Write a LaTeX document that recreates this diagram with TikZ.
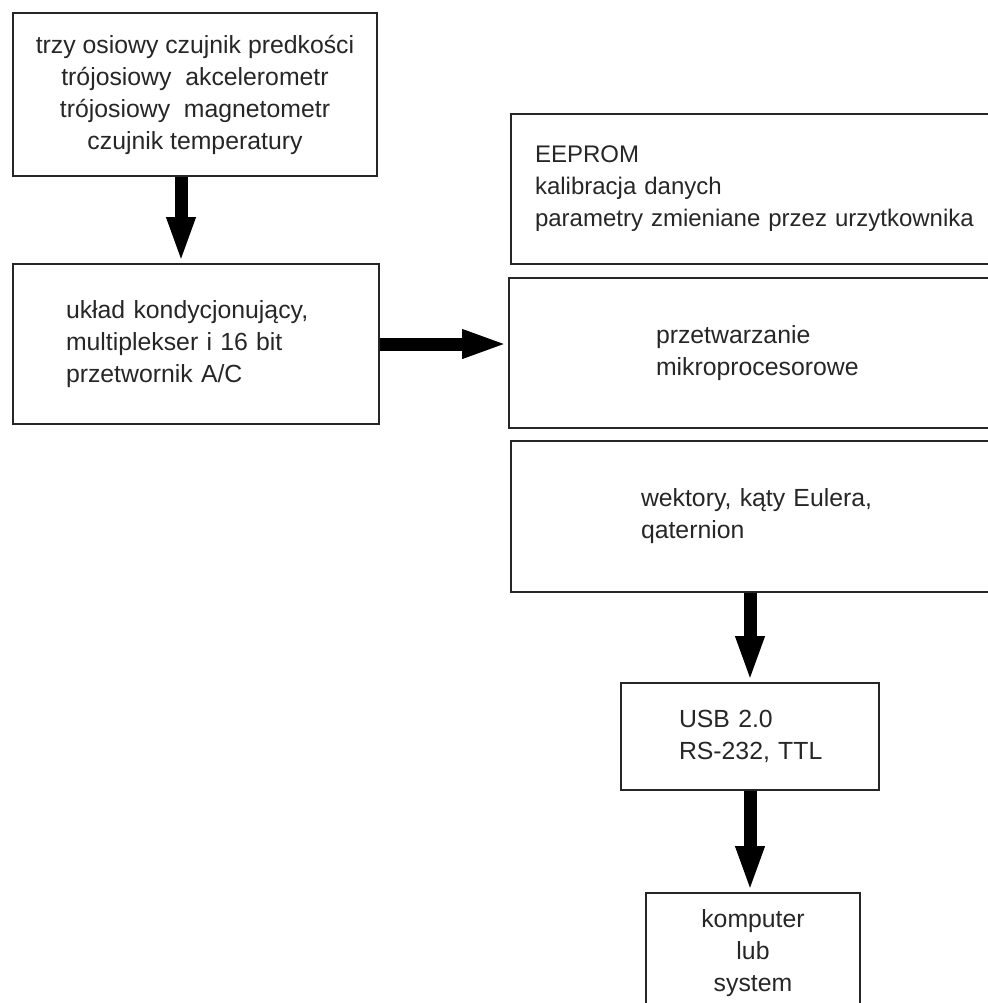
\documentclass[tikz,border=0pt]{standalone}
\usepackage{fontspec}
\setmainfont{Liberation Sans}
\usetikzlibrary{arrows.meta,positioning}

\begin{document}
\begin{tikzpicture}[x=0.5pt,y=-0.5pt]
    \tikzset{block/.style= {draw=black!85, rectangle
    , line width=1pt
    , anchor=north west
    , font=\fontsize{12.4}{16}\selectfont
    , text=black!85
    , inner ysep=0pt
      }
    , fat/.style= {line width=6.5pt
    , -{Triangle[width=13pt,length=23pt]}
      }
    }
\useasboundingbox (0,0) rectangle (987,1003);

\node [block, minimum width=182pt, minimum height=81.5pt, align=center] (sensors) at (12,12)
  {trzy osiowy czujnik predkości\\trójosiowy\ \ akcelerometr\\trójosiowy\ \ magnetometr\\czujnik temperatury};
\node [block, inner xsep=26.5pt, text width=130pt, minimum height=80pt, align=left] (adc) at (12,263)
  {układ kondycjonujący,\\multiplekser i 16 bit\\przetwornik A/C};
\node [block, inner xsep=12pt, text width=240pt, minimum height=75pt, align=left,
  font=\fontsize{12}{16}\selectfont] (eeprom) at (510,113)
  {EEPROM\\kalibracja danych\\parametry zmieniane przez urzytkownika};
\node [block, inner xsep=73.5pt, text width=180pt, minimum height=75pt, align=left] (proc) at (508,277)
  {przetwarzanie\\mikroprocesorowe};
\node [block, inner xsep=65pt, text width=190pt, minimum height=75.5pt, align=left] (vec) at (510,440)
  {wektory, kąty Eulera,\\qaternion};
\node [block, inner xsep=29pt, text width=71pt, minimum height=53.5pt, align=left] (usb) at (620,682)
  {USB 2.0\\\mbox{RS-232, TTL}};
\node [block, minimum width=107pt, minimum height=60pt, align=center] (pc) at (645,892)
  {komputer\\lub\\system};

 \path[draw, fat] ([xshift=-7pt]sensors.south) -- ([xshift=-7pt]sensors.south |- adc.north);
 \path[draw, fat] (adc.east) -- (adc.east -| proc.west);
 \path[draw, fat] (usb.north |- vec.south) -- (usb.north);
 \path[draw, fat] (usb.south) -- (usb.south |- pc.north);
\end{tikzpicture}
\end{document}
